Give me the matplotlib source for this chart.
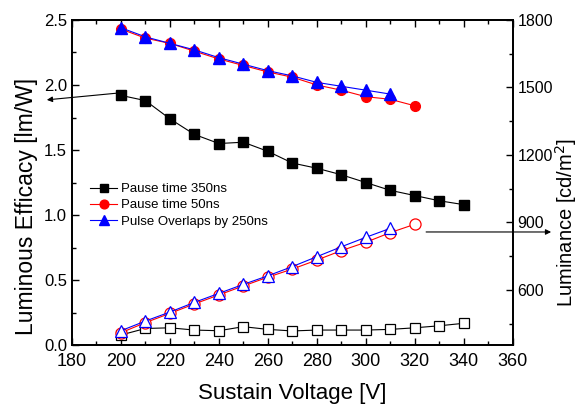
import numpy as np
import matplotlib.pyplot as plt
from matplotlib.ticker import MultipleLocator

plt.rcParams['font.family'] = ['Liberation Sans', 'DejaVu Sans']

# 데이터
volt_350 = [200, 210, 220, 230, 240, 250, 260, 270, 280, 290, 300, 310, 320, 330, 340]
volt_50 = [200, 210, 220, 230, 240, 250, 260, 270, 280, 290, 300, 310, 320]
volt_ov = [200, 210, 220, 230, 240, 250, 260, 270, 280, 290, 300, 310]

eff_350 = [1.92, 1.88, 1.74, 1.62, 1.55, 1.56, 1.49, 1.40, 1.36, 1.31, 1.25, 1.19, 1.15, 1.11, 1.08]
eff_50 = [2.43, 2.36, 2.32, 2.26, 2.20, 2.15, 2.10, 2.06, 2.00, 1.96, 1.91, 1.89, 1.84]
eff_ov = [2.44, 2.37, 2.32, 2.27, 2.21, 2.16, 2.11, 2.07, 2.02, 1.99, 1.96, 1.93]

lum_350 = [400, 429, 432, 422, 419, 437, 425, 418, 422, 422, 422, 425, 432, 441, 452]
lum_50 = [410, 455, 496, 538, 578, 618, 657, 693, 733, 775, 812, 855, 892]
lum_ov = [419, 462, 502, 545, 585, 625, 663, 704, 748, 792, 834, 874]

labels = ['Pause time 350ns', 'Pause time 50ns', 'Pulse Overlaps by 250ns']

fig = plt.figure(figsize=(5.8, 4.07), dpi=100)
ax = fig.add_axes([0.124, 0.152, 0.76, 0.799])
ax2 = ax.twinx()

ms = 7
ax.plot(volt_350, eff_350, '-s', color='black', lw=0.8, ms=ms, label=labels[0])
ax.plot(volt_50, eff_50, '-o', color='red', lw=0.8, ms=ms, label=labels[1])
ax.plot(volt_ov, eff_ov, '-^', color='blue', lw=0.8, ms=ms + 1, label=labels[2])

ax2.plot(volt_350, lum_350, '-s', color='black', mfc='white', lw=0.8, ms=ms, mew=0.9)
ax2.plot(volt_50, lum_50, '-o', color='red', mfc='white', lw=0.8, ms=ms + 1, mew=0.9)
ax2.plot(volt_ov, lum_ov, '-^', color='blue', mfc='white', lw=0.8, ms=ms + 1, mew=0.9)

ax.set_xlim(180, 360)
ax.set_ylim(0, 2.5)
ax2.set_ylim(355, 1800)

ax.xaxis.set_major_locator(MultipleLocator(20))
ax.xaxis.set_minor_locator(MultipleLocator(10))
ax.yaxis.set_major_locator(MultipleLocator(0.5))
ax.yaxis.set_minor_locator(MultipleLocator(0.25))
ax.yaxis.set_major_formatter(plt.FormatStrFormatter('%.1f'))
ax2.yaxis.set_major_locator(MultipleLocator(300))
ax2.yaxis.set_minor_locator(MultipleLocator(150))

ax.tick_params(which='both', direction='in', top=True, right=False)
ax.tick_params(axis='x', labelsize=13, pad=6)
ax.tick_params(axis='y', labelsize=12)
ax.tick_params(which='major', length=5, width=1)
ax.tick_params(which='minor', length=3, width=1)
ax2.tick_params(which='both', direction='in', labelsize=11.5)
ax2.tick_params(which='major', length=5, width=1)
ax2.tick_params(which='minor', length=3, width=1)
for a in (ax, ax2):
    for s in a.spines.values():
        s.set_linewidth(1.3)

ax.set_xlabel('Sustain Voltage [V]', fontsize=16)
ax.set_ylabel('Luminous Efficacy [lm/W]', fontsize=16.5)
ax2.set_ylabel('Luminance [cd/m$^2$]', fontsize=14.5)
ax.xaxis.set_label_coords(0.5, -0.115)
ax.yaxis.set_label_coords(-0.077, 0.425)
ax2.yaxis.set_label_coords(1.092, 0.378)

ax.legend(loc='upper left', bbox_to_anchor=(0.03, 0.515), frameon=False, fontsize=9.5,
          handlelength=2.0, handletextpad=0.3, labelspacing=0.3, borderaxespad=0.0,
          markerscale=0.9)

arrowprops = dict(arrowstyle='-|>', color='black', lw=0.8, mutation_scale=8)
ax.annotate('', xy=(0.076, 0.754), xycoords='figure fraction',
            xytext=(200, 1.94), textcoords='data', arrowprops=arrowprops)
ax.annotate('', xy=(0.955, 0.43), xycoords='figure fraction',
            xytext=(323.5, 0.87), textcoords='data', arrowprops=arrowprops)

fig.savefig('out.png', dpi=100)
